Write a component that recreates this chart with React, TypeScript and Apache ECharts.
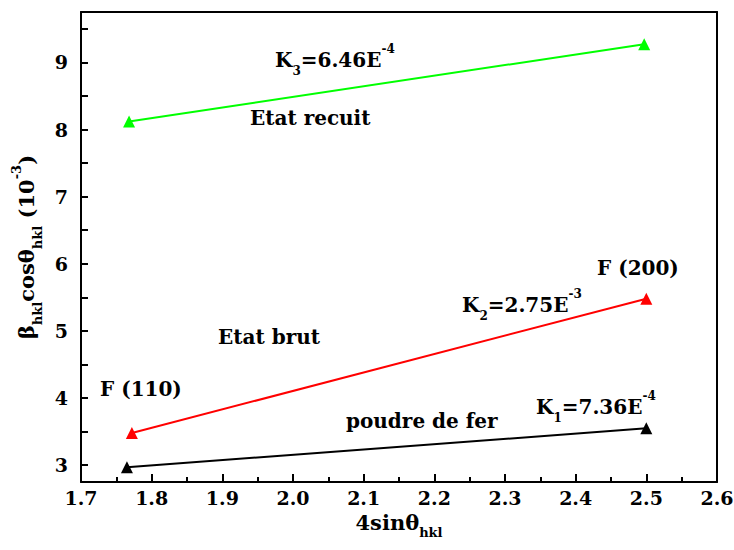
import React, { useEffect, useRef } from "react";
import * as echarts from "echarts";

// 4 sin(theta) positions of the F(110) and F(200) reflections
const xPowder = [1.765, 2.5];
const xRaw = [1.772, 2.5];
const xAnnealed = [1.768, 2.497];

// beta cos(theta) values, in units of 10^-3
const yPowder = [2.97, 3.55];
const yRaw = [3.48, 5.48];
const yAnnealed = [8.12, 9.27];

const yTickLabels = [3, 4, 5, 6, 7, 8, 9];
const yTicks = [3, 3.5, 4, 4.5, 5, 5.5, 6, 6.5, 7, 7.5, 8, 8.5, 9, 9.5];

const FONT = "DejaVu Serif";

const pair = (xs: number[], ys: number[]) => xs.map((x, i) => [x, ys[i]]);

const makeRich = (size: number, small: number) => ({
  m: { fontFamily: FONT, fontWeight: "bold", fontSize: size, color: "#000", lineHeight: 34, verticalAlign: "middle" },
  sub: { fontFamily: FONT, fontWeight: "bold", fontSize: small, color: "#000", lineHeight: 11, verticalAlign: "bottom" },
  sup: { fontFamily: FONT, fontWeight: "bold", fontSize: small, color: "#000", lineHeight: 11, verticalAlign: "top" },
});

const rich = makeRich(20, 12);
const axisRich = makeRich(21, 13);

const note = (x: number, y: number, text: string) => ({
  type: "text",
  x,
  y,
  style: {
    text,
    rich,
    verticalAlign: "middle",
    align: "left",
    fontFamily: FONT,
    fontWeight: "bold",
    fontSize: 20,
  },
});

export default function App() {
  const ref = useRef<HTMLDivElement>(null);

  useEffect(() => {
    if (!ref.current) return;
    const chart = echarts.init(ref.current, undefined, { renderer: "svg" });

    const series = [
      { name: "poudre de fer", data: pair(xPowder, yPowder), color: "#000000" },
      { name: "Etat brut", data: pair(xRaw, yRaw), color: "#ff0000" },
      { name: "Etat recuit", data: pair(xAnnealed, yAnnealed), color: "#00ff00" },
    ].map((s) => ({
      type: "line",
      name: s.name,
      data: s.data,
      symbol: "triangle",
      symbolSize: 12,
      showSymbol: true,
      lineStyle: { color: s.color, width: 2 },
      itemStyle: { color: s.color },
    }));

    const tickLabel = {
      color: "#000",
      fontFamily: FONT,
      fontWeight: "bold",
      fontSize: 19,
    };

    chart.setOption({
      animation: false,
      backgroundColor: "#ffffff",
      textStyle: { fontFamily: FONT },
      grid: {
        left: 81,
        right: 17,
        top: 12,
        bottom: 68,
        containLabel: false,
        outerBoundsMode: "none",
      },
      xAxis: [
        {
          type: "value",
          min: 1.7,
          max: 2.6,
          interval: 0.1,
          name: "{m|4sin\u03b8}{sub|hkl}",
          nameLocation: "middle",
          nameGap: 20,
          nameTextStyle: { rich: axisRich },
          axisLine: { show: true, onZero: false, lineStyle: { color: "#000", width: 2 } },
          axisTick: { show: true, inside: true, length: 8, lineStyle: { color: "#000", width: 2 } },
          minorTick: { show: true, splitNumber: 2, length: 5, lineStyle: { color: "#000", width: 2 } },
          splitLine: { show: false },
          axisLabel: {
            ...tickLabel,
            margin: 6,
            hideOverlap: false,
            formatter: (v: number) => v.toFixed(1),
          },
        },
        {
          type: "value",
          position: "top",
          min: 1.7,
          max: 2.6,
          axisLine: { show: true, onZero: false, lineStyle: { color: "#000", width: 2 } },
          axisTick: { show: false },
          axisLabel: { show: false },
          splitLine: { show: false },
        },
      ],
      yAxis: [
        {
          type: "value",
          min: 2.75,
          max: 9.75,
          name: "{m|\u03b2}{sub|hkl}{m|cos\u03b8}{sub|hkl}{m| (10}{sup|-3}{m|)}",
          nameLocation: "middle",
          nameRotate: 90,
          nameGap: 33,
          nameTextStyle: { rich: axisRich },
          axisLine: { show: true, onZero: false, lineStyle: { color: "#000", width: 2 } },
          axisTick: {
            show: true,
            inside: true,
            length: 7,
            customValues: yTicks,
            lineStyle: { color: "#000", width: 2 },
          },
          splitLine: { show: false },
          axisLabel: {
            ...tickLabel,
            margin: 13,
            customValues: yTickLabels,
          },
        },
        {
          type: "value",
          position: "right",
          min: 2.75,
          max: 9.75,
          axisLine: { show: true, onZero: false, lineStyle: { color: "#000", width: 2 } },
          axisTick: { show: false },
          axisLabel: { show: false },
          splitLine: { show: false },
        },
      ],
      series,
      graphic: [
        note(275, 60, "{m|K}{sub|3}{m|=6.46E}{sup|-4}"),
        note(250, 118, "{m|Etat recuit}"),
        note(597, 268, "{m|F (200)}"),
        note(462, 305, "{m|K}{sub|2}{m|=2.75E}{sup|-3}"),
        note(218, 337, "{m|Etat brut}"),
        note(100, 389, "{m|F (110)}"),
        note(536, 407, "{m|K}{sub|1}{m|=7.36E}{sup|-4}"),
        note(346, 421, "{m|poudre de fer}"),
      ],
    });

    return () => chart.dispose();
  }, []);

  return (
    <div
      ref={ref}
      style={{ position: "fixed", left: 0, top: 0, width: 734, height: 550, overflow: "visible" }}
    />
  );
}
